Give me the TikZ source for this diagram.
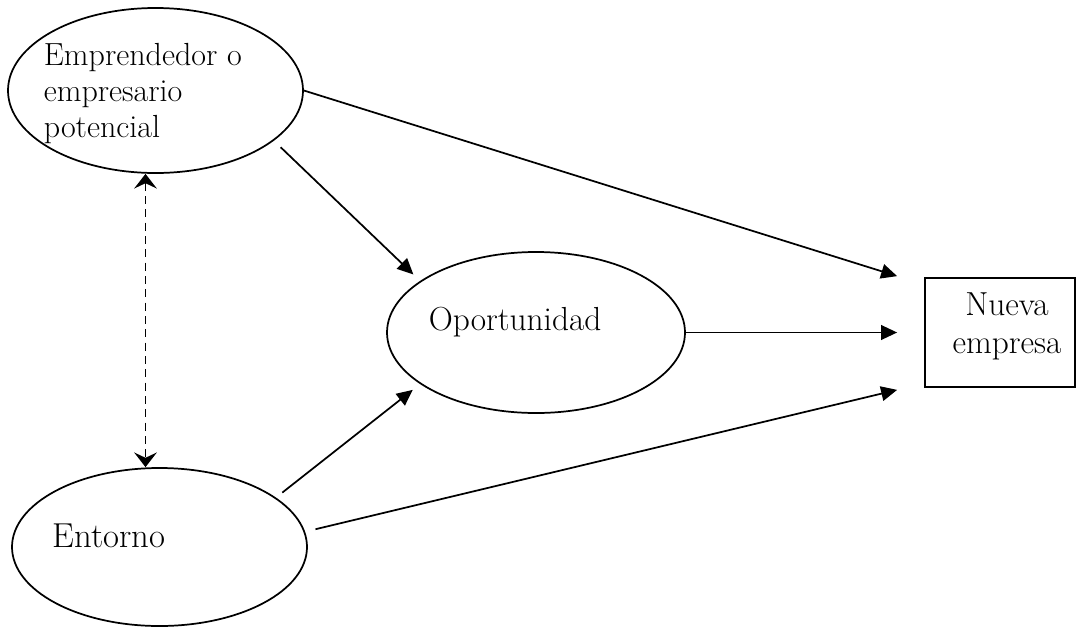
\documentclass[tikz,border=0pt]{standalone}
\usetikzlibrary{arrows.meta,shapes.geometric}
\begin{document}
\begin{tikzpicture}[x=0.75pt,y=-0.75pt,line width=1.3pt,
  ell/.style={draw,ellipse,inner sep=0pt},
  box/.style={draw,rectangle,inner sep=0pt},
  arr/.style={-{Triangle[length=12pt,width=11pt]}},
  darr/.style={{Stealth[length=11pt,width=17pt,inset=4pt]}-{Stealth[length=11pt,width=17pt,inset=4pt]},dash pattern=on 6pt off 4pt},
  lab/.style={inner sep=0pt,anchor=base west,align=left}]
\useasboundingbox (0,0) rectangle (1078,629);
% shapes
\node[ell,minimum width=221.25pt,minimum height=123.75pt] (emp) at (155.5,90.5) {};
\node[ell,minimum width=221.25pt,minimum height=118.5pt] (ent) at (159.5,547) {};
\node[ell,minimum width=223.5pt,minimum height=120.75pt] (opo) at (536,332.5) {};
\node[box,minimum width=112.5pt,minimum height=81.75pt] (nue) at (1000,332.5) {};
% texts (base anchor = last line)
\node[lab,font=\fontsize{24}{27}\selectfont] (tEmp) at (43,137) {Emprendedor o\\empresario\\potencial};
\node[lab,font=\fontsize{26}{28}\selectfont] (tEnt) at (52,547) {Entorno};
\node[lab,font=\fontsize{25}{28}\selectfont] (tOpo) at (428,330) {Oportunidad};
\node[inner sep=0pt,anchor=base,align=center,font=\fontsize{25}{28.5}\selectfont] (tNue) at (1007,353) {Nueva\\empresa};
% connectors
\draw[arr] (emp.east) -- ([shift={(-27,-1)}]nue.north west);
\draw[arr,shorten <=7pt,shorten >=7pt] (emp.-23.5) -- (opo.156);
\draw[arr] (opo.east) -- ([shift={(-27,0)}]nue.west);
\draw[arr,shorten <=6pt,shorten >=7pt] (ent.23.6) -- (opo.-156.5);
\draw[arr,shorten <=8pt] (ent.6.6) -- ([shift={(-27,2)}]nue.south west);
\draw[darr] ([shift={(-10,0)}]emp.south) -- ([shift={(-10,0)}]emp.south |- ent.north);
\end{tikzpicture}
\end{document}
